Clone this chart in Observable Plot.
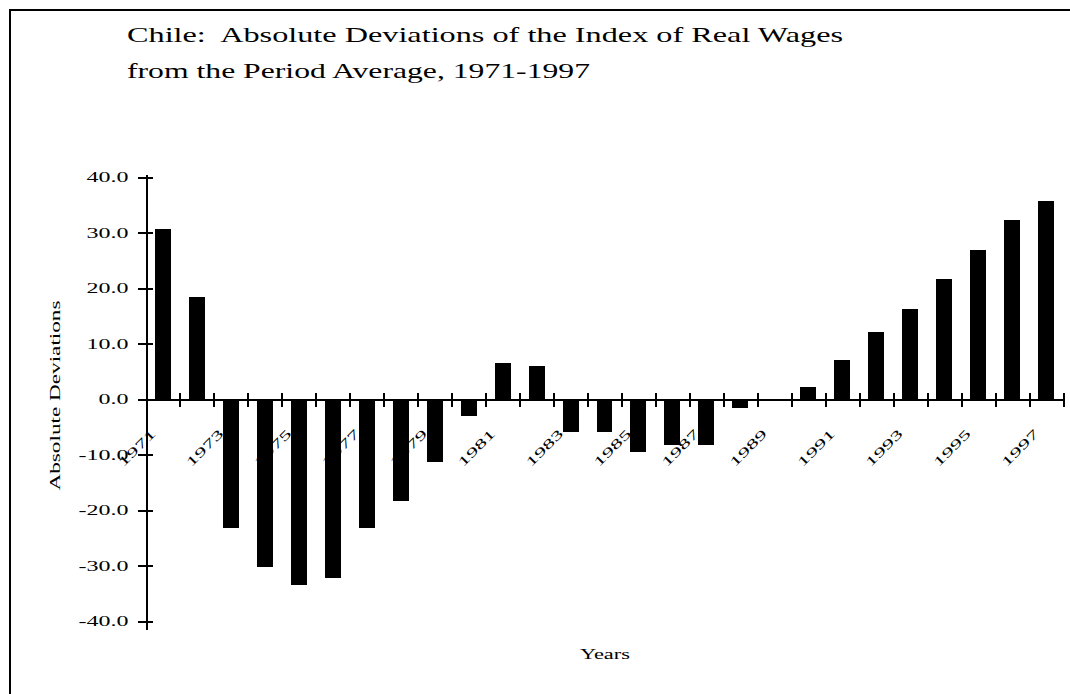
<!DOCTYPE html>
<html>
<head>
<meta charset="utf-8">
<script src="https://cdn.jsdelivr.net/npm/d3@7"></script>
<script src="https://cdn.jsdelivr.net/npm/@observablehq/plot@0.6"></script>
<style>
html, body { margin: 0; padding: 0; background: #fff; }
#wrap { position: relative; width: 1070px; height: 694px; overflow: hidden; background: #fff; }
#chart { position: absolute; left: 0; top: 0; }
#frame { position: absolute; left: 9px; top: 9px; width: 1100px; height: 720px; border-left: 2px solid #000; border-top: 2px solid #000; }
#title { position: absolute; left: 127px; top: 17px; font-family: "Liberation Serif", "Times New Roman", serif; font-size: 22px; color: #000; white-space: pre; }
#title div { height: 36px; line-height: 36px; }
#title span { display: inline-block; transform-origin: 0 50%; }
svg { shape-rendering: crispEdges; }
</style>
</head>
<body>
<div id="wrap"><div id="chart"></div><div id="frame"></div><div id="title"></div></div>
<script>
// ---- data ----
const years = [1971, 1972, 1973, 1974, 1975, 1976, 1977, 1978, 1979, 1980, 1981, 1982, 1983, 1984,
               1985, 1986, 1987, 1988, 1989, 1990, 1991, 1992, 1993, 1994, 1995, 1996, 1997];
const values = [30.6, 18.3, -23.3, -30.2, -33.6, -32.3, -23.3, -18.3, -11.3, -3.1, 6.4, 5.9, -5.9, -5.9,
                -9.6, -8.3, -8.3, -1.7, 0, 2.2, 7.1, 12.1, 16.3, 21.6, 26.9, 32.3, 35.6];
const labelYears = [1971, 1973, 1975, 1977, 1979, 1981, 1983, 1985, 1987, 1989, 1991, 1993, 1995, 1997];
const yTicks = [-40, -30, -20, -10, 0, 10, 20, 30, 40];
const titleLines = ["Chile:  Absolute Deviations of the Index of Real Wages",
                    "from the Period Average, 1971-1997"];
const xTitle = "Years";
const yTitle = "Absolute Deviations";

// ---- chart ----
const data = years.map((year, i) => ({year, value: values[i]}));
const xDomain = [years[0] - 0.5, years[years.length - 1] + 0.5];
const boundaries = [...years.map(y => y - 0.5), years[years.length - 1] + 0.5];
const serif = "'Liberation Serif', 'Times New Roman', serif";

const plot = Plot.plot({
  width: 1070,
  height: 694,
  marginLeft: 146,
  marginRight: 7,
  marginTop: 177,
  marginBottom: 73,
  style: {fontFamily: serif, color: "#000", background: "transparent", overflow: "visible"},
  x: {type: "linear", domain: xDomain, axis: null},
  y: {domain: [-40, 40], axis: null},
  marks: [
    // text mark 0: year labels (drawn first so the bars cover them, as in the original)
    Plot.text(labelYears, {x: d => d, y: 0, text: d => String(d), rotate: -45, textAnchor: "end",
      dx: -10, dy: 32, fontSize: 13, fill: "#000"}),
    Plot.rect(data, {x1: d => d.year - 0.5, x2: d => d.year + 0.5, y1: 0, y2: "value",
      fill: "#000", insetLeft: 9, insetRight: 9}),
    Plot.ruleY([0], {stroke: "#000", strokeWidth: 2}),
    Plot.ruleX(boundaries, {x: d => d, y1: 0, y2: 0, insetTop: -6, insetBottom: -8, stroke: "#000", strokeWidth: 2}),
    Plot.ruleX([xDomain[0]], {x: d => d, y1: 40, y2: -40, insetTop: -2, insetBottom: -9, stroke: "#000", strokeWidth: 2}),
    Plot.ruleY(yTicks, {y: d => d, x1: xDomain[0], x2: xDomain[0], insetLeft: -8, insetRight: -7, stroke: "#000", strokeWidth: 2}),
    // text mark 1: y tick labels
    Plot.text(yTicks, {y: d => d, frameAnchor: "left", dx: -18, textAnchor: "end",
      text: d => d.toFixed(1), fontSize: 15, fill: "#000"}),
    // text mark 2: y title
    Plot.text([yTitle], {frameAnchor: "left", rotate: -90, textAnchor: "middle", dx: -91, dy: -4, fontSize: 15, fill: "#000"}),
    // text mark 3: x title
    Plot.text([xTitle], {frameAnchor: "bottom", textAnchor: "middle", dy: 37, fontSize: 15, fill: "#000"})
  ]
});
document.getElementById("chart").appendChild(plot);

// widen the text like the wide bitmap serif of the original
const textGroups = d3.select(plot).selectAll('g[aria-label="text"]').nodes();
function stretch(group, fn) {
  d3.select(group).selectAll("text").each(function () {
    const w = this.getComputedTextLength();
    this.setAttribute("textLength", fn(w));
    this.setAttribute("lengthAdjust", "spacingAndGlyphs");
  });
}
stretch(textGroups[0], w => w * 1.8);
stretch(textGroups[1], w => w * 1.6);
stretch(textGroups[2], w => 190);
stretch(textGroups[3], w => 50);

// title
const titleTargets = [716, 463];
const titleEl = document.getElementById("title");
titleLines.forEach((line, i) => {
  const row = document.createElement("div");
  const span = document.createElement("span");
  span.textContent = line;
  row.appendChild(span);
  titleEl.appendChild(row);
  const w = span.getBoundingClientRect().width;
  span.style.transform = `scaleX(${titleTargets[i] / w})`;
});
</script>
</body>
</html>
